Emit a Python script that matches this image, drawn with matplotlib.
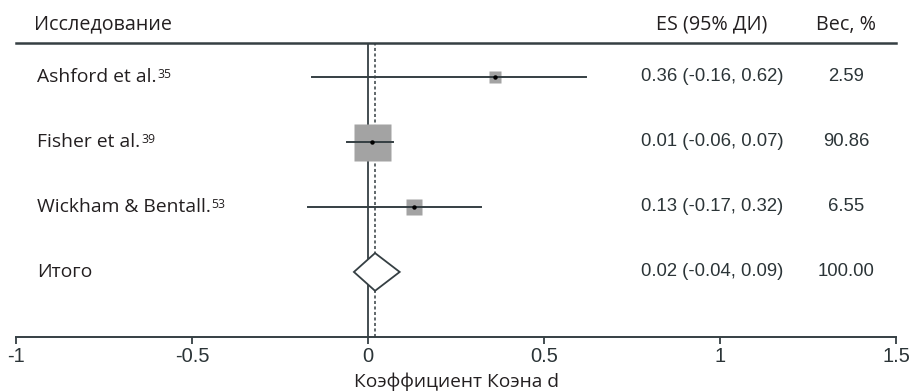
import matplotlib
matplotlib.use("Agg")
import matplotlib.pyplot as plt
from matplotlib.patches import Polygon
import numpy as np

studies = ["Ashford et al.", "Fisher et al.", "Wickham & Bentall."]
refs = ["35", "39", "53"]
es = [0.36, 0.01, 0.13]
ci_lo = [-0.16, -0.06, -0.17]
ci_hi = [0.62, 0.07, 0.32]
weights = [2.59, 90.86, 6.55]

pooled_label = "Итого"
pooled_es = 0.02
pooled_lo = -0.04
pooled_hi = 0.09
pooled_weight = 100.00

xticks = [-1, -0.5, 0, 0.5, 1, 1.5]
xtick_labels = ["-1", "-0.5", "0", "0.5", "1", "1.5"]

LINE = "#353f43"
TEXT = "#231f20"
NUM = "#2b3437"
BOX = "#a3a3a3"
LABEL_FONT = ["Open Sans", "DejaVu Sans"]
NUM_FONT = ["Liberation Sans", "DejaVu Sans"]
TICK_FONT = ["Liberation Sans Narrow", "Liberation Sans", "DejaVu Sans"]

W, H = 911, 392
fig = plt.figure(figsize=(W / 100, H / 100), dpi=100)
ax = fig.add_axes([16 / W, 1 - 337 / H, 880 / W, 294 / H])

ax.set_xlim(-1, 1.5)
ax.set_ylim(5.0, 0.48)

for side in ("left", "right"):
    ax.spines[side].set_visible(False)
ax.spines["top"].set_color(LINE)
ax.spines["top"].set_linewidth(1.8)
ax.spines["bottom"].set_color(LINE)
ax.spines["bottom"].set_linewidth(1.4)
ax.set_yticks([])
ax.set_xticks(xticks)
ax.set_xticklabels(xtick_labels, family=TICK_FONT, fontsize=14.5, color=NUM)
ax.tick_params(axis="x", direction="out", length=5, width=1.3, color=LINE, pad=2)
ax.set_xlabel("Коэффициент Коэна d", family=LABEL_FONT, fontsize=13.8,
              color=TEXT, labelpad=5)

# reference line at zero and the pooled estimate
ax.axvline(0, color=LINE, lw=1.3, zorder=1)
ax.axvline(pooled_es, color=LINE, lw=1.1, ls=(0, (2.0, 1.6)), zorder=1)

rows = np.arange(1, len(studies) + 1)
wmax = max(weights)
for y, e, lo, hi, w in zip(rows, es, ci_lo, ci_hi, weights):
    side_px = 37 * (w / wmax) ** 0.3
    ax.plot(e, y, marker="s", ms=side_px * 0.72, color=BOX, mec="none", zorder=2)
    ax.plot([lo, hi], [y, y], color=LINE, lw=1.4, zorder=3)
    ax.plot(e, y, marker="o", ms=3.2, color="black", mec="none", zorder=4)

# pooled diamond
py = len(studies) + 1
half_h = 0.29
diamond = Polygon([[pooled_lo, py], [pooled_es, py - half_h],
                   [pooled_hi, py], [pooled_es, py + half_h]],
                  closed=True, facecolor="white", edgecolor=LINE, lw=1.3, zorder=3)
ax.add_patch(diamond)

# left-hand study labels with superscript references
x_lab = -0.94
for y, name, ref in zip(rows, studies, refs):
    t = ax.text(x_lab, y, name, family=LABEL_FONT, fontsize=13.9, color=TEXT,
                va="center", ha="left")
    ax.annotate(ref, xy=(1, 0.45), xycoords=t, xytext=(0.5, 0),
                textcoords="offset points", family=LABEL_FONT, fontsize=8.8,
                color=TEXT, va="baseline", ha="left")
ax.text(x_lab, py, pooled_label, family=LABEL_FONT, fontsize=13.9, color=TEXT,
        va="center", ha="left")

# right-hand columns
x_es, x_w = 0.977, 1.358
all_es = es + [pooled_es]
all_lo = ci_lo + [pooled_lo]
all_hi = ci_hi + [pooled_hi]
all_w = weights + [pooled_weight]
for y, e, lo, hi, w in zip(list(rows) + [py], all_es, all_lo, all_hi, all_w):
    ax.text(x_es, y, f"{e:.2f} ({lo:.2f}, {hi:.2f})", family=NUM_FONT,
            fontsize=13.3, color=NUM, ha="center", va="center")
    ax.text(x_w, y, f"{w:.2f}", family=NUM_FONT, fontsize=13.3, color=NUM,
            ha="center", va="center")

# header row above the top rule
hy = 0.2
ax.text(-0.95, hy, "Исследование", family=LABEL_FONT, fontsize=14.2, color=TEXT,
        ha="left", va="center", clip_on=False)
ax.text(x_es, hy, "ES (95% ДИ)", family=LABEL_FONT, fontsize=14.2, color=TEXT,
        ha="center", va="center", clip_on=False)
ax.text(x_w, hy, "Вес, %", family=LABEL_FONT, fontsize=14.2, color=TEXT,
        ha="center", va="center", clip_on=False)

fig.savefig("out.png", dpi=100)
